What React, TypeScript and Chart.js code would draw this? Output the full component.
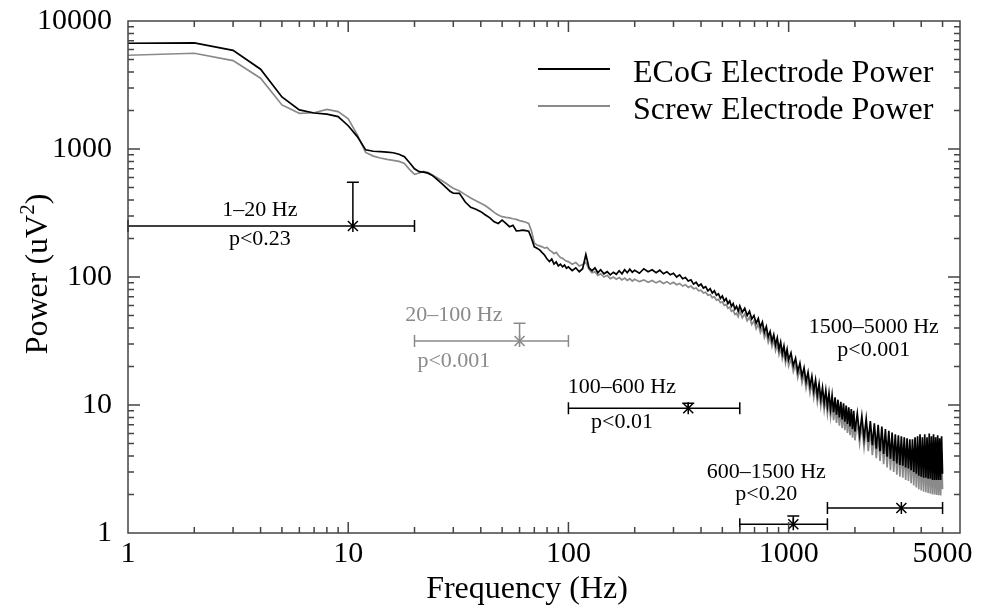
import React, { useEffect, useRef } from "react";
import { Chart, registerables } from "chart.js";

Chart.register(...registerables);

// ---------------- DATA ----------------
const freqs = [
  1, 2, 3, 4, 5, 6, 7, 8, 9, 10, 11, 12, 13, 14, 15, 16, 17, 18, 19, 20,
  21, 22, 23, 24, 25, 26, 27, 28, 29, 30,
  32, 34, 36, 38, 40, 42, 44, 46, 48, 50, 52, 54, 56, 58, 60, 62, 64, 66, 68, 70,
  72, 74, 76, 78, 80, 82, 84, 86, 88, 90, 92, 94, 96, 98,
  100, 104, 108, 112, 116, 120, 124, 128, 132, 136, 140,
  145, 150, 155, 160, 165, 170, 175, 180, 185, 190, 195, 200,
  210, 220, 230, 240, 250, 260, 270, 280, 290, 300, 310, 320, 330, 340, 350, 360, 370, 380, 390,
  400, 410, 420, 430, 440, 450, 460, 470, 480, 490, 500, 510, 520, 530, 540, 550, 560, 570, 580, 590,
  600, 616, 632, 648, 664, 680, 696, 712, 728, 744, 760, 776, 792, 808, 824, 840, 856, 872, 888, 904,
  920, 936, 952, 968, 984,
  1000, 1025, 1050, 1075, 1100, 1125, 1150, 1175, 1200, 1225, 1250, 1275, 1300, 1325, 1350, 1375,
  1400, 1425, 1450, 1475, 1500, 1525, 1550, 1575, 1600, 1625, 1650, 1675, 1700, 1725, 1750, 1775,
  1800, 1825, 1850, 1875, 1900, 1925, 1950, 1975,
  2000, 2050, 2100, 2150, 2200, 2250, 2300, 2350, 2400, 2450, 2500, 2550, 2600, 2650, 2700, 2750,
  2800, 2850, 2900, 2950, 3000, 3050, 3100, 3150, 3200, 3250, 3300, 3350, 3400, 3450, 3500, 3550,
  3600, 3650, 3700, 3750, 3800, 3850, 3900, 3950, 4000, 4050, 4100, 4150, 4200, 4250, 4300, 4350,
  4400, 4450, 4500, 4550, 4600, 4650, 4700, 4750, 4800, 4850, 4900, 4950, 5000,
];

const ecogPower = [
  6700, 6750, 5900, 4200, 2550, 2020, 1910, 1870, 1790, 1520, 1250, 985, 960, 955, 945, 935, 910, 870, 780, 700,
  665, 660, 648, 625, 590, 555, 525, 495, 468, 451,
  450, 385, 350, 338, 324, 305, 290, 270, 262, 278, 262, 247, 253, 229, 230, 232, 230, 228, 200, 172,
  168, 163, 155, 148, 138, 132, 138, 126, 131, 122, 126, 120, 124, 117,
  120, 112, 118, 110, 116, 150, 118, 112, 118, 108, 114,
  106, 110, 104, 109, 105, 112, 106, 114, 108, 115, 109, 113,
  107, 116, 110, 114, 108, 113, 106, 110, 104, 107, 100, 104, 97, 99, 93, 95, 88, 91, 85,
  88, 82, 84, 78, 81, 75, 78, 72, 74, 68, 71, 65, 68, 62, 65, 59, 62, 56, 59, 54,
  59.5, 53, 57, 50, 54, 47, 50, 43.5, 47.5, 40.5, 44.5, 37, 41, 34, 37.5, 31.5, 35.5, 29.5, 33.5, 27.3,
  31, 25.3, 29, 23.5, 27.2,
  22.5, 25.5, 20.3, 23.2, 18.2, 21.2, 16.7, 19.5, 15.2, 18, 14, 16.8, 12.9, 15.7, 11.9, 14.6,
  11.1, 13.7, 10.4, 13, 9.8, 12.4, 9.3, 11.9, 8.8, 11.5, 8.4, 11, 8.0, 10.6, 7.7, 10.3,
  7.4, 9.9, 7.1, 9.6, 6.8, 9.3, 6.5, 9.0,
  6.2, 8.6, 5.85, 8.2, 5.5, 7.8, 5.15, 7.5, 4.85, 7.2, 4.55, 7.0, 4.35, 6.8, 4.15, 6.5,
  3.95, 6.3, 3.8, 6.1, 3.65, 5.9, 3.5, 5.8, 3.4, 5.7, 3.35, 5.6, 3.25, 5.5, 3.2, 5.4,
  3.1, 5.4, 3.0, 5.6, 2.9, 5.7, 2.8, 5.9, 2.75, 5.6, 2.7, 5.9, 2.7, 5.6, 2.65, 6.0,
  2.65, 5.7, 2.6, 5.9, 2.6, 5.6, 2.6, 5.8, 2.6, 5.5, 2.6, 5.7, 2.9,
];

const screwPower = [
  5400, 5600, 4900, 3570, 2210, 1900, 1920, 2040, 1960, 1720, 1290, 940, 880, 850, 830, 815, 800, 770, 690, 635,
  650, 668, 655, 630, 605, 580, 558, 535, 512, 493,
  470, 440, 415, 395, 377, 360, 340, 320, 305, 296, 292, 290, 285, 282, 276, 272, 268, 262, 228, 184,
  178, 175, 172, 168, 170, 162, 158, 152, 156, 148, 142, 140, 136, 133,
  132, 126, 130, 122, 125, 130, 115, 108, 110, 103, 106,
  100, 103, 97, 100, 96, 99, 95, 98, 94, 97, 93, 96,
  92, 95, 91, 94, 90, 93, 89, 92, 88, 91, 87, 89, 85, 87, 83, 85, 81, 82, 78,
  79, 75, 76, 72, 73, 69, 70, 66, 67, 63, 64, 60, 61, 57, 58, 54, 55, 51, 52, 49,
  54.5, 48, 51.5, 45.5, 48.5, 42.6, 45.5, 39.5, 43, 36.8, 40.3, 33.6, 37, 30.8, 34, 28.6, 32.2, 26.7, 30, 24.8,
  28, 23, 26, 21.2, 24.5,
  20.2, 23, 18.2, 20.8, 16.3, 19, 14.9, 17.4, 13.5, 16, 12.4, 14.9, 11.4, 13.9, 10.5, 12.9,
  9.75, 12, 9.1, 11.3, 8.5, 10.8, 8.05, 10.3, 7.6, 9.9, 7.25, 9.5, 6.9, 9.1, 6.6, 8.8,
  6.35, 8.5, 6.05, 8.2, 5.8, 7.95, 5.55, 7.7,
  5.3, 7.4, 5.0, 7.0, 4.65, 6.6, 4.35, 6.3, 4.05, 6.05, 3.85, 5.85, 3.65, 5.65, 3.45, 5.4,
  3.25, 5.2, 3.1, 5.0, 3.0, 4.8, 2.85, 4.7, 2.75, 4.6, 2.7, 4.5, 2.6, 4.4, 2.55, 4.3,
  2.45, 4.3, 2.35, 4.4, 2.27, 4.4, 2.2, 4.5, 2.15, 4.3, 2.1, 4.5, 2.08, 4.3, 2.05, 4.5,
  2.03, 4.3, 2.0, 4.4, 2.0, 4.2, 1.98, 4.3, 1.97, 4.2, 1.96, 4.3, 2.2,
];

const seriesNames = ["ECoG Electrode Power", "Screw Electrode Power"];

const xTickValues = [1, 10, 100, 1000, 5000];
const xTickLabels = ["1", "10", "100", "1000", "5000"];
const yTickValues = [1, 10, 100, 1000, 10000];
const yTickLabels = ["1", "10", "100", "1000", "10000"];

// Frequency bands (statistics overlay)
const bandNames = ["1\u201320 Hz", "20\u2013100 Hz", "100\u2013600 Hz", "600\u20131500 Hz", "1500\u20135000 Hz"];
const bandPValues = ["p<0.23", "p<0.001", "p<0.01", "p<0.20", "p<0.001"];
const bandLow = [1, 20, 100, 600, 1500];
const bandHigh = [20, 100, 600, 1500, 5000];
const bandCenter = [10.5, 60, 350, 1050, 3250];
const bandMean = [250, 31.6, 9.43, 1.17, 1.57];
const bandUpper = [550, 43.5, 10.3, 1.36, 1.57];

// ---------------- STYLE / LAYOUT ----------------
const SERIF = "'Liberation Serif', 'Times New Roman', 'DejaVu Serif', serif";
const BLACK = "#000000";
const GRAY = "#8a8a8a";
const AXIS = "#444444";
const bandColors = [BLACK, GRAY, BLACK, BLACK, BLACK];
// label anchors in data coordinates: [freq, title power, p power]
const bandLabelAnchors = [
  [3.97, 334, 198],
  [30.2, 50.5, 22.1],
  [175, 13.8, 7.37],
  [791, 3.0, 2.02],
  [2434, 40.7, 26.9],
];

const W = 983;
const H = 608;

const decorPlugin = {
  id: "decor",
  beforeDraw(chart: any) {
    const ctx = chart.ctx;
    ctx.save();
    ctx.fillStyle = "#ffffff";
    ctx.fillRect(0, 0, chart.width, chart.height);
    ctx.restore();
  },
  afterDatasetsDraw(chart: any) {
    const ctx = chart.ctx;
    const xs = chart.scales.x;
    const ys = chart.scales.y;
    ctx.save();
    for (let i = 0; i < bandNames.length; i++) {
      const color = bandColors[i];
      ctx.strokeStyle = color;
      ctx.fillStyle = color;
      ctx.lineWidth = 1.5;
      const x0 = xs.getPixelForValue(bandLow[i]);
      const x1 = xs.getPixelForValue(bandHigh[i]);
      const xc = xs.getPixelForValue(bandCenter[i]);
      const yv = ys.getPixelForValue(bandMean[i]);
      ctx.beginPath();
      ctx.moveTo(x0, yv);
      ctx.lineTo(x1, yv);
      ctx.moveTo(x0, yv - 6);
      ctx.lineTo(x0, yv + 6);
      ctx.moveTo(x1, yv - 6);
      ctx.lineTo(x1, yv + 6);
      ctx.stroke();
      if (bandUpper[i] > bandMean[i]) {
        const yu = ys.getPixelForValue(bandUpper[i]);
        ctx.beginPath();
        ctx.moveTo(xc, yv);
        ctx.lineTo(xc, yu);
        ctx.moveTo(xc - 6, yu);
        ctx.lineTo(xc + 6, yu);
        ctx.stroke();
      }
      // asterisk marker
      ctx.beginPath();
      ctx.moveTo(xc - 5, yv - 5);
      ctx.lineTo(xc + 5, yv + 5);
      ctx.moveTo(xc - 5, yv + 5);
      ctx.lineTo(xc + 5, yv - 5);
      ctx.moveTo(xc, yv - 6);
      ctx.lineTo(xc, yv + 6);
      ctx.stroke();
      ctx.beginPath();
      ctx.arc(xc, yv, 1.6, 0, Math.PI * 2);
      ctx.fill();
      // labels
      const [lf, lt, lp] = bandLabelAnchors[i];
      const lx = xs.getPixelForValue(lf);
      ctx.font = `22px ${SERIF}`;
      ctx.textAlign = "center";
      ctx.textBaseline = "middle";
      ctx.fillText(bandNames[i], lx, ys.getPixelForValue(lt));
      ctx.fillText(bandPValues[i], lx, ys.getPixelForValue(lp));
    }
    ctx.restore();
  },
  afterDraw(chart: any) {
    const ctx = chart.ctx;
    const xs = chart.scales.x;
    const ys = chart.scales.y;
    const { left, right, top, bottom } = chart.chartArea;
    ctx.save();
    ctx.strokeStyle = AXIS;
    ctx.lineWidth = 1.5;
    ctx.strokeRect(left, top, right - left, bottom - top);
    ctx.beginPath();
    // x ticks (bottom and top)
    for (let d = 1; d <= 1000; d *= 10) {
      for (let m = 1; m <= 9; m++) {
        const v = d * m;
        if (v > 6000) break;
        const px = xs.getPixelForValue(v);
        if (px <= left + 0.5 || px >= right - 0.5) continue;
        const len = m === 1 ? 11 : 6;
        ctx.moveTo(px, bottom);
        ctx.lineTo(px, bottom - len);
        ctx.moveTo(px, top);
        ctx.lineTo(px, top + len);
      }
    }
    // y ticks (left and right)
    for (let d = 1; d <= 1000; d *= 10) {
      for (let m = 1; m <= 9; m++) {
        const v = d * m;
        const py = ys.getPixelForValue(v);
        if (py >= bottom - 0.5 || py <= top + 0.5) continue;
        const len = m === 1 ? 12 : 6;
        ctx.moveTo(left, py);
        ctx.lineTo(left + len, py);
        ctx.moveTo(right, py);
        ctx.lineTo(right - len, py);
      }
    }
    ctx.stroke();

    // legend
    const ds = chart.data.datasets;
    const legendY = [69, 106];
    for (let i = 0; i < ds.length; i++) {
      ctx.strokeStyle = ds[i].borderColor;
      ctx.lineWidth = 2;
      ctx.beginPath();
      ctx.moveTo(538, legendY[i]);
      ctx.lineTo(610, legendY[i]);
      ctx.stroke();
      ctx.fillStyle = BLACK;
      ctx.font = `32px ${SERIF}`;
      ctx.textAlign = "left";
      ctx.textBaseline = "alphabetic";
      ctx.fillText(ds[i].label, 633, legendY[i] + 13);
    }

    // x-axis title
    ctx.fillStyle = BLACK;
    ctx.font = `32px ${SERIF}`;
    ctx.textAlign = "center";
    ctx.textBaseline = "alphabetic";
    ctx.fillText("Frequency (Hz)", 527, 598);

    // y-axis title with superscript
    ctx.save();
    ctx.translate(47, 274);
    ctx.rotate(-Math.PI / 2);
    const main = "Power (uV";
    const sup = "2";
    const close = ")";
    ctx.font = `32px ${SERIF}`;
    const w1 = ctx.measureText(main).width;
    const w3 = ctx.measureText(close).width;
    ctx.font = `21px ${SERIF}`;
    const w2 = ctx.measureText(sup).width;
    const total = w1 + w2 + w3;
    let x = -total / 2;
    ctx.textAlign = "left";
    ctx.font = `32px ${SERIF}`;
    ctx.fillText(main, x, 0);
    x += w1;
    ctx.font = `21px ${SERIF}`;
    ctx.fillText(sup, x, -13);
    x += w2;
    ctx.font = `32px ${SERIF}`;
    ctx.fillText(close, x, 0);
    ctx.restore();

    ctx.restore();
  },
};

export default function App() {
  const canvasRef = useRef<HTMLCanvasElement | null>(null);

  useEffect(() => {
    if (!canvasRef.current) return;
    const ecogData = freqs.map((f, i) => ({ x: f, y: ecogPower[i] }));
    const screwData = freqs.map((f, i) => ({ x: f, y: screwPower[i] }));
    const chart = new Chart(canvasRef.current, {
      type: "line",
      data: {
        datasets: [
          {
            label: seriesNames[0],
            data: ecogData,
            borderColor: BLACK,
            borderWidth: 1.7,
            pointRadius: 0,
            tension: 0,
            fill: false,
          },
          {
            label: seriesNames[1],
            data: screwData,
            borderColor: GRAY,
            borderWidth: 1.7,
            pointRadius: 0,
            tension: 0,
            fill: false,
          },
        ],
      },
      options: {
        responsive: false,
        animation: false,
        devicePixelRatio: 1,
        layout: { padding: { top: 21, right: 23, left: 0, bottom: 0 } },
        plugins: {
          legend: { display: false },
          tooltip: { enabled: false },
        },
        scales: {
          x: {
            type: "logarithmic",
            min: 1,
            max: 6000,
            afterBuildTicks: (s: any) => {
              s.ticks = xTickValues.map((v) => ({ value: v }));
            },
            afterFit: (s: any) => {
              s.height = 75;
              s.paddingLeft = 0;
              s.paddingRight = 0;
            },
            ticks: {
              autoSkip: false,
              maxRotation: 0,
              padding: 3,
              color: BLACK,
              font: { family: SERIF, size: 30 },
              callback: (v: any) => {
                const idx = xTickValues.indexOf(Number(v));
                return idx >= 0 ? xTickLabels[idx] : "";
              },
            },
            grid: { display: false, drawTicks: false },
            border: { display: false },
          },
          y: {
            type: "logarithmic",
            min: 1,
            max: 10000,
            afterBuildTicks: (s: any) => {
              s.ticks = yTickValues.map((v) => ({ value: v }));
            },
            afterFit: (s: any) => {
              s.width = 128;
              s.paddingTop = 0;
              s.paddingBottom = 0;
            },
            ticks: {
              autoSkip: false,
              padding: 16,
              color: BLACK,
              font: { family: SERIF, size: 30 },
              callback: (v: any) => {
                const idx = yTickValues.indexOf(Number(v));
                return idx >= 0 ? yTickLabels[idx] : "";
              },
            },
            grid: { display: false, drawTicks: false },
            border: { display: false },
          },
        },
      },
      plugins: [decorPlugin],
    } as any);
    return () => chart.destroy();
  }, []);

  return (
    <div style={{ position: "absolute", left: 0, top: 0, width: W, height: H, background: "#fff" }}>
      <canvas ref={canvasRef} width={W} height={H} style={{ display: "block" }} />
    </div>
  );
}
